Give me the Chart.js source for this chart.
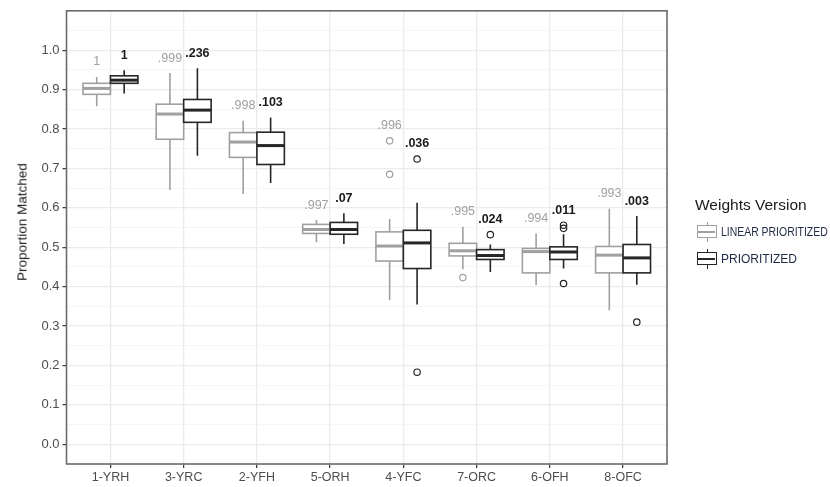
<!DOCTYPE html>
<html>
<head>
<meta charset="utf-8">
<script src="https://cdn.jsdelivr.net/npm/chart.js@4.4.0/dist/chart.umd.min.js"></script>
<style>
  html, body { margin: 0; padding: 0; background: #fff; }
  #wrap { position: relative; width: 830px; height: 487px; font-family: 'Liberation Sans', Arial, sans-serif; }
  #chart { position: absolute; left: 0; top: 0; }
  #ytitle { position: absolute; left: 22px; top: 222px; transform: translate(-50%, -50%) rotate(-90deg); font-size: 13.5px; white-space: nowrap; color: #1a1a1a; }
  #legendTitle { position: absolute; left: 695px; top: 196px; font-size: 15.5px; color: #1a1a1a; white-space: nowrap; }
  .item { position: absolute; left: 697px; width: 133px; height: 20px; }
  .glyph { position: absolute; left: 0; top: 0; width: 21px; height: 20px; }
  .glyph .whisker { position: absolute; left: 9.5px; top: 0; width: 1.6px; height: 20px; }
  .glyph .box { position: absolute; left: 0; top: 3px; width: 18px; height: 11px; border: 1.6px solid; background: #fff; }
  .glyph .median { position: absolute; left: 0; top: 4.7px; width: 18px; height: 1.8px; }
  .item .label { position: absolute; left: 24px; top: 2.5px; font-size: 12px; color: #1f2a44; white-space: nowrap; transform-origin: left center; }
</style>
</head>
<body>
<div id="wrap">
  <canvas id="chart" width="830" height="487"></canvas>
  <div id="ytitle">Proportion Matched</div>
  <div id="legendTitle">Weights Version</div>
  <div id="legend"></div>
</div>
<script>
/////////////////////
//      Data       //
/////////////////////
const categories = ['1-YRH', '3-YRC', '2-YFH', '5-ORH', '4-YFC', '7-ORC', '6-OFH', '8-OFC'];
const yTickLabels = ['0.0', '0.1', '0.2', '0.3', '0.4', '0.5', '0.6', '0.7', '0.8', '0.9', '1.0'];
const seriesNames = ['LINEAR PRIORITIZED', 'PRIORITIZED'];

// LINEAR PRIORITIZED (grey boxes)
const linearLow = [0.858, 0.645, 0.635, 0.513, 0.366, 0.444, 0.404, 0.340];
const linearQ1 = [0.888, 0.774, 0.728, 0.535, 0.465, 0.478, 0.435, 0.435];
const linearMedian = [0.903, 0.838, 0.767, 0.545, 0.503, 0.491, 0.489, 0.480];
const linearQ3 = [0.916, 0.863, 0.791, 0.558, 0.539, 0.510, 0.497, 0.502];
const linearHigh = [0.932, 0.942, 0.821, 0.569, 0.572, 0.552, 0.535, 0.598];
const linearOutliers = [[], [], [], [], [0.770, 0.685], [0.423], [], []];
const linearLabels = ['1', '.999', '.998', '.997', '.996', '.995', '.994', '.993'];

// PRIORITIZED (black boxes)
const prioLow = [0.890, 0.732, 0.663, 0.508, 0.355, 0.437, 0.446, 0.405];
const prioQ1 = [0.916, 0.817, 0.710, 0.533, 0.446, 0.469, 0.469, 0.435];
const prioMedian = [0.924, 0.848, 0.758, 0.545, 0.511, 0.479, 0.488, 0.473];
const prioQ3 = [0.935, 0.875, 0.792, 0.563, 0.543, 0.494, 0.501, 0.507];
const prioHigh = [0.949, 0.954, 0.829, 0.586, 0.613, 0.507, 0.533, 0.579];
const prioOutliers = [[], [], [], [], [0.724, 0.183], [0.532], [0.556, 0.548, 0.408], [0.310]];
const prioLabels = ['1', '.236', '.103', '.07', '.036', '.024', '.011', '.003'];


/////////////////////
//    Constants    //
/////////////////////
const FONT = "'Liberation Sans', Arial, sans-serif";
const GREY = '#a0a0a0';
const DARK = '#262626';
const HALF = 0.1875;    // half of one dodged box, in category units

const SERIES = [
  { offset: -HALF, color: GREY, low: linearLow, q1: linearQ1, median: linearMedian, q3: linearQ3,
    high: linearHigh, outliers: linearOutliers, labels: linearLabels, bold: false, textColor: '#a0a0a0' },
  { offset: HALF, color: DARK, low: prioLow, q1: prioQ1, median: prioMedian, q3: prioQ3,
    high: prioHigh, outliers: prioOutliers, labels: prioLabels, bold: true, textColor: '#1a1a1a' }
];

function isMajor(v) {
  return Math.abs(v * 10 - Math.round(v * 10)) < 1e-6 && v > -0.01;
}


////////////////////////////
//    Box plot plugin     //
////////////////////////////
const boxPlugin = {
  id: 'boxes',
  beforeDatasetsDraw(chart) {
    const ctx = chart.ctx;
    const xs = chart.scales.x;
    const ys = chart.scales.y;
    ctx.save();
    for (const s of SERIES) {
      categories.forEach((c, i) => {
        const cx = i + s.offset;
        const left = xs.getPixelForValue(cx - HALF);
        const right = xs.getPixelForValue(cx + HALF);
        const mid = xs.getPixelForValue(cx);
        const top = ys.getPixelForValue(s.q3[i]);
        const bottom = ys.getPixelForValue(s.q1[i]);

        ctx.strokeStyle = s.color;
        ctx.lineWidth = 1.6;
        // whiskers
        ctx.beginPath();
        ctx.moveTo(mid, ys.getPixelForValue(s.high[i]));
        ctx.lineTo(mid, top);
        ctx.moveTo(mid, bottom);
        ctx.lineTo(mid, ys.getPixelForValue(s.low[i]));
        ctx.stroke();
        // box
        ctx.fillStyle = '#fff';
        ctx.fillRect(left, top, right - left, bottom - top);
        ctx.strokeRect(left, top, right - left, bottom - top);
        // median
        ctx.lineWidth = 3;
        const my = ys.getPixelForValue(s.median[i]);
        ctx.beginPath();
        ctx.moveTo(left, my);
        ctx.lineTo(right, my);
        ctx.stroke();
      });
    }
    ctx.restore();
  },
  afterDatasetsDraw(chart) {
    const ctx = chart.ctx;
    const xs = chart.scales.x;
    const ys = chart.scales.y;
    ctx.save();
    ctx.textAlign = 'center';
    ctx.textBaseline = 'middle';
    for (const s of SERIES) {
      ctx.font = `${s.bold ? 'bold ' : ''}12.5px ${FONT}`;
      ctx.fillStyle = s.textColor;
      categories.forEach((c, i) => {
        const topValue = Math.max(s.high[i], ...s.outliers[i]);
        const px = xs.getPixelForValue(i + s.offset);
        const py = ys.getPixelForValue(topValue) - 15;
        ctx.fillText(s.labels[i], px, py);
      });
    }
    ctx.restore();
  },
  afterDraw(chart) {
    const { left, top, right, bottom } = chart.chartArea;
    const ctx = chart.ctx;
    ctx.save();
    ctx.strokeStyle = '#6b6b6b';
    ctx.lineWidth = 1.6;
    ctx.strokeRect(left, top, right - left, bottom - top);
    ctx.restore();
  }
};


///////////////////////
//    Main Script    //
///////////////////////
const datasets = SERIES.map((s, k) => {
  const points = [];
  s.outliers.forEach((list, i) => {
    for (const v of list) {
      points.push({ x: i + s.offset, y: v });
    }
  });
  return {
    label: seriesNames[k],
    data: points,
    pointStyle: 'circle',
    pointRadius: 3.2,
    pointBorderWidth: 1.2,
    borderColor: s.color,
    backgroundColor: 'rgba(0,0,0,0)',
    showLine: false
  };
});

new Chart(document.getElementById('chart'), {
  type: 'scatter',
  data: { datasets },
  options: {
    responsive: false,
    animation: false,
    layout: { padding: { top: 10, right: 163, left: 0, bottom: 0 } },
    plugins: {
      legend: { display: false },
      tooltip: { enabled: false }
    },
    scales: {
      x: {
        type: 'linear',
        min: -0.6,
        max: categories.length - 0.4,
        afterBuildTicks: (scale) => {
          scale.ticks = categories.map((c, i) => ({ value: i }));
        },
        afterFit: (scale) => { scale.height = 23; },
        ticks: {
          autoSkip: false,
          maxRotation: 0,
          padding: 2,
          color: '#4d4d4d',
          font: { size: 12.5, family: FONT },
          callback: (v) => categories[v]
        },
        grid: { color: '#ebebeb', lineWidth: 1.3, tickLength: 4, tickColor: '#333', tickWidth: 1.2 },
        border: { display: false }
      },
      y: {
        min: -0.05,
        max: 1.1,
        afterBuildTicks: (scale) => {
          const ticks = [{ value: -0.05 }];
          for (const label of yTickLabels) {
            const v = parseFloat(label);
            ticks.push({ value: v });
            ticks.push({ value: Math.round((v + 0.05) * 100) / 100 });
          }
          ticks.push({ value: 1.1 });
          scale.ticks = ticks;
        },
        afterFit: (scale) => { scale.width = 66.5; },
        ticks: {
          autoSkip: false,
          padding: 3,
          color: '#4d4d4d',
          font: { size: 13, family: FONT },
          callback: (v) => (isMajor(v) && v <= 1.0001 ? v.toFixed(1) : '')
        },
        grid: {
          color: (c) => (isMajor(c.tick.value) ? '#ebebeb' : '#f3f3f3'),
          lineWidth: (c) => (isMajor(c.tick.value) ? 1.3 : 0.8),
          tickLength: 4,
          tickColor: (c) => (isMajor(c.tick.value) && c.tick.value <= 1.0001 ? '#333' : 'rgba(0,0,0,0)'),
          tickWidth: 1.2
        },
        border: { display: false }
      }
    }
  },
  plugins: [boxPlugin]
});

// Legend keys
const legend = document.getElementById('legend');
SERIES.forEach((s, k) => {
  const item = document.createElement('div');
  item.className = 'item';
  item.style.top = `${222 + 27 * k}px`;
  item.innerHTML =
    `<div class="glyph">` +
      `<div class="whisker" style="background:${s.color}"></div>` +
      `<div class="box" style="border-color:${s.color}"></div>` +
      `<div class="median" style="background:${s.color};top:${3 + 1.6 + 5.5 - 0.9}px"></div>` +
    `</div>` +
    `<span class="label">${seriesNames[k]}</span>`;
  legend.appendChild(item);
  // squeeze the long key so it stays inside the picture, as in the original
  const label = item.querySelector('.label');
  const room = 107;
  if (label.offsetWidth > room) {
    label.style.transform = `scaleX(${room / label.offsetWidth})`;
  }
});
</script>
</body>
</html>
